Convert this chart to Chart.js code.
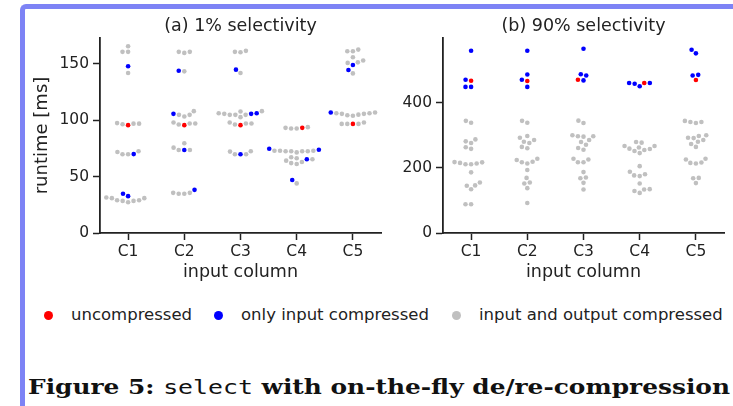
<!DOCTYPE html>
<html>
<head>
<meta charset="utf-8">
<script src="https://cdn.jsdelivr.net/npm/chart.js@4.4.1/dist/chart.umd.min.js"></script>
<style>
  body { margin: 0; background: #fff; }
  #page { position: relative; width: 733px; height: 406px; overflow: hidden; background: #fff; }
  #frame {
    position: absolute; left: 20px; top: 4px; width: 760px; height: 460px;
    border-top: 5px solid #7d83f5; border-left: 5px solid #7d83f5;
    border-top-left-radius: 6px; box-sizing: border-box; z-index: 2;
  }
  .panel { position: absolute; top: 0; height: 290px; }
  #panelA { left: 0; width: 390px; }
  #panelB { left: 390px; width: 343px; }
  #legend {
    position: absolute; top: 305px; left: 0; height: 22px; width: 733px;
    font-family: 'DejaVu Sans'; font-size: 16.5px; color: #222;
  }
  #legend span { position: absolute; top: 0; white-space: nowrap; }
  #legend i { position: absolute; top: 6px; width: 9px; height: 9px; border-radius: 50%; }
  #caption {
    position: absolute; left: 28px; top: 375px; white-space: nowrap;
    font-family: 'DejaVu Serif'; font-weight: bold; font-size: 20px; color: #111;
    transform-origin: 0 50%;
  }
  #caption code { font-family: 'DejaVu Sans Mono'; font-weight: normal; font-size: 20px; }
</style>
</head>
<body>
<div id="page">
  <div id="frame"></div>
  <div class="panel" id="panelA"><canvas id="chartA"></canvas></div>
  <div class="panel" id="panelB"><canvas id="chartB"></canvas></div>
  <div id="legend">
    <i style="left:44px;background:#ff0000"></i><span style="left:71px">uncompressed</span>
    <i style="left:214px;background:#0000ff"></i><span style="left:241px">only input compressed</span>
    <i style="left:452px;background:#c0c0c0"></i><span style="left:479px">input and output compressed</span>
  </div>
  <div id="caption">Figure 5: <code>select</code> with on-the-fly de/re-compression</div>
</div>
<script>
const categories = ['C1', 'C2', 'C3', 'C4', 'C5'];

// (a) 1% selectivity, runtime in ms
const sel1Uncompressed = [95.7, 95.7, 95.7, 93.3, 96.8];
const sel1InputOnly = [
  [147.9, 70, 34.8, 32.7],
  [144, 105.7, 73.7, 38.3],
  [144.9, 105.7, 106.3, 69.8],
  [74.8, 73.9, 65.4, 47],
  [149.1, 144.6, 106.9]
];
const sel1InputOutput = [
  [165.7, 160.7, 160.7, 142, 97.5, 96.5, 97, 97, 71.9, 69.8, 69.8, 72.5, 30.9, 30.9, 28.5, 27.3, 28.5, 29.1, 29.1, 31.5],
  [160.7, 159.8, 160.7, 143.4, 108.1, 104.8, 103.3, 104.8, 98, 96.2, 97.1, 97.1, 79.6, 75.7, 73.7, 73.7, 34.8, 34.8, 35.6, 35.6],
  [160.7, 160.3, 161.6, 142, 108.1, 106.3, 104.8, 104.8, 107.8, 102.8, 104.8, 105.7, 98, 96.2, 97.1, 97.1, 72.2, 69.8, 69.8, 72.5],
  [93.9, 92.7, 92.7, 93.3, 73, 73, 72.5, 72.5, 71.5, 72.5, 72.5, 73, 66.3, 64.2, 63, 61.2, 67.2, 65.4, 62, 44],
  [161.3, 161.3, 162.7, 155.9, 150.9, 151.4, 153, 141.6, 106.3, 105.7, 104.5, 104, 105, 105.7, 106.3, 106.9, 98, 96.8, 96.8, 96.8]
];

// (b) 90% selectivity, runtime in ms
const sel90Uncompressed = [467, 466, 470, 460, 469];
const sel90InputOnly = [
  [559, 470, 448, 448],
  [559, 486, 470, 448],
  [565, 487, 483, 468],
  [460, 457.5, 450, 460],
  [562, 551, 485, 483]
];
const sel90InputOutput = [
  [344, 338, 287, 281, 276, 263, 258, 215, 211, 211, 213, 216.6, 217.5, 186, 155, 145, 134, 146, 88, 88],
  [344, 338, 297.5, 292, 285, 280, 276, 264, 260, 224, 217, 227.7, 218.5, 213, 193, 169, 152, 155, 137.5, 92],
  [344.6, 337.5, 299.6, 295.4, 296.6, 296.6, 279, 270.8, 260.6, 255.4, 217, 225.5, 227.5, 217, 186.7, 170.3, 168, 153.8, 133.5, 285],
  [277, 279, 267, 267, 258.7, 257.6, 251.4, 245, 254.7, 262, 205, 176.6, 174.5, 187.7, 180, 152, 129, 123, 133.5, 134.5],
  [340.6, 337.5, 340.6, 343.7, 297.5, 299.6, 292, 291, 285, 273, 264, 225.5, 215, 227.7, 213, 216, 169, 168, 153, 280]
];

const yTicksA = [0, 50, 100, 150];
const yTicksB = [0, 200, 400];

Chart.defaults.font.family = 'DejaVu Sans';
Chart.defaults.color = '#222';

const SWARM_D = 5.6;
const INK = '#222';

function points(rows) {
  return rows.flatMap((vals, i) => [].concat(vals).map(v => ({ x: i, y: v })));
}

// seaborn-like beeswarm: spread points of each category sideways so they don't overlap
const swarmPlugin = {
  id: 'swarm',
  afterDatasetsUpdate(chart) {
    const xs = chart.scales.x;
    const groups = {};
    chart.data.datasets.forEach((ds, di) => {
      chart.getDatasetMeta(di).data.forEach((el, i) => {
        const c = ds.data[i].x;
        (groups[c] = groups[c] || []).push(el);
      });
    });
    Object.keys(groups).forEach(c => {
      const center = xs.getPixelForValue(+c);
      const pts = groups[c].slice().sort((a, b) => b.y - a.y);
      const placed = [];
      pts.forEach(el => {
        const near = placed.filter(p => Math.abs(p.y - el.y) < SWARM_D);
        const cands = [0];
        near.forEach(p => {
          const dx = Math.sqrt(SWARM_D * SWARM_D - (p.y - el.y) ** 2);
          cands.push(p.off - dx, p.off + dx);
        });
        cands.sort((a, b) => Math.abs(a) - Math.abs(b));
        const off = cands.find(o => near.every(p => (p.off - o) ** 2 + (p.y - el.y) ** 2 >= SWARM_D * SWARM_D - 0.01));
        placed.push({ y: el.y, off: off });
        el.x = center + off;
      });
    });
  }
};

function makeChart(id, title, red, blue, gray, yMax, yTicks, yTitle, padLeft, yWidth) {
  const dot = (label, color, data) => ({
    label: label, data: data,
    backgroundColor: color, borderColor: color, borderWidth: 0,
    pointRadius: 2.3, pointHoverRadius: 2.3
  });
  return new Chart(document.getElementById(id), {
    type: 'scatter',
    data: {
      datasets: [
        dot('uncompressed', '#ff0000', points(red)),
        dot('only input compressed', '#0000ff', points(blue)),
        dot('input and output compressed', '#c0c0c0', points(gray))
      ]
    },
    options: {
      responsive: true,
      maintainAspectRatio: false,
      animation: false,
      events: [],
      layout: { padding: { left: padLeft, right: 9, top: 0, bottom: 2 } },
      plugins: {
        legend: { display: false },
        tooltip: { enabled: false },
        title: {
          display: true, text: title, fullSize: false,
          color: INK, font: { size: 17.5, weight: 'normal' },
          padding: { top: 16, bottom: 1 }
        }
      },
      scales: {
        x: {
          type: 'linear', min: -0.5, max: 4.5,
          afterBuildTicks: s => { s.ticks = categories.map((_, i) => ({ value: i })); },
          afterFit: s => { s.height = 55; },
          ticks: { callback: v => categories[v], color: INK, font: { size: 15.5 }, padding: 3, maxRotation: 0 },
          grid: { drawOnChartArea: false, drawTicks: true, tickLength: 7, tickColor: INK, tickWidth: 1.5 },
          border: { display: true, color: INK, width: 1.8 },
          title: { display: true, text: 'input column', color: INK, font: { size: 17.5 }, padding: { top: 0, bottom: 5 } }
        },
        y: {
          type: 'linear', min: 0, max: yMax,
          afterBuildTicks: s => { s.ticks = yTicks.map(v => ({ value: v })); },
          afterFit: s => { s.width = yWidth; },
          ticks: { color: INK, font: { size: 15.5 }, padding: 4 },
          grid: { drawOnChartArea: false, drawTicks: true, tickLength: 7, tickColor: INK, tickWidth: 1.5 },
          border: { display: true, color: INK, width: 1.8 },
          title: { display: !!yTitle, text: yTitle, color: INK, font: { size: 18 }, padding: { top: 4, bottom: 0 } }
        }
      }
    },
    plugins: [swarmPlugin]
  });
}

makeChart('chartA', '(a) 1% selectivity', sel1Uncompressed, sel1InputOnly, sel1InputOutput, 173, yTicksA, 'runtime [ms]', 28, 72);
makeChart('chartB', '(b) 90% selectivity', sel90Uncompressed, sel90InputOnly, sel90InputOutput, 598, yTicksB, '', 0, 53);

// the caption in the reference is set in a wide bold serif; stretch ours to the same width
const caption = document.getElementById('caption');
caption.style.transform = 'scaleX(' + (702 / caption.getBoundingClientRect().width) + ')';
</script>
</body>
</html>
